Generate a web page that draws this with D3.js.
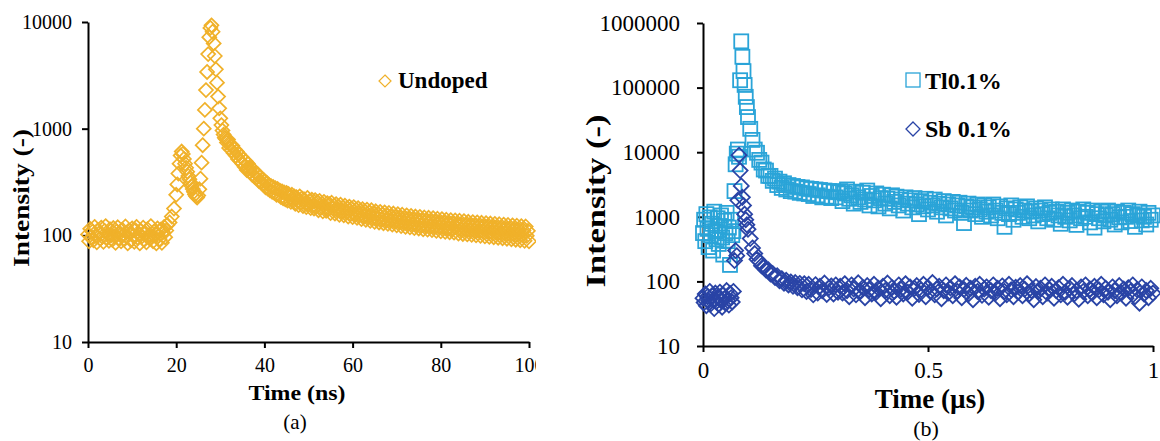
<!DOCTYPE html>
<html>
<head>
<meta charset="utf-8">
<script src="https://cdn.jsdelivr.net/npm/d3@7"></script>
<style>
  body { margin: 0; background: #fff; }
  svg text { font-family: "Liberation Serif", "Times New Roman", serif; fill: #000; }
</style>
</head>
<body>
<svg width="1160" height="441"></svg>
<script>
// (a) undoped: [time (ns), intensity]
const undoped = [
  [0,102],[0.25,88],[0.5,115],[0.75,96],[1,108],[1.25,90],[1.5,120],[1.75,99],[2,86],[2.25,112],
  [2.5,104],[2.75,93],[3,118],[3.25,97],[3.5,87],[3.75,110],[4,122],[4.25,95],[4.5,103],[4.75,89],
  [5,114],[5.25,100],[5.5,91],[5.75,117],[6,98],[6.25,85],[6.5,109],[6.75,119],[7,94],[7.25,105],
  [7.5,88],[7.75,113],[8,101],[8.25,92],[8.5,121],[8.75,97],[9,84],[9.25,111],[9.5,104],[9.75,90],
  [10,116],[10.25,99],[10.5,87],[10.75,112],[11,120],[11.25,95],[11.5,102],[11.75,84],[12,110],[12.25,98],
  [12.5,118],[12.75,91],[13,105],[13.25,86],[13.5,114],[13.75,100],[14,93],[14.25,122],[14.5,97],[14.75,88],
  [15,109],[15.25,103],[15.5,84],[15.75,116],[16,99],[16.25,92],[16.5,113],[16.75,85],[17,107],[17.25,120],
  [17.5,96],[17.75,111],[18,125],[18.5,132],[19,150],[19.5,178],
  [20,240],[20.25,300],[20.5,380],[20.75,470],[21,560],[21.25,610],[21.5,580],[21.75,520],[22,470],[22.25,430],
  [22.5,395],[22.75,360],[23,335],[23.25,310],[23.5,290],[23.75,272],[24,256],[24.25,242],[24.5,232],[24.75,226],
  [25,236],[25.25,270],[25.5,340],[25.75,480],[26,700],[26.25,1000],[26.5,1500],[26.75,2300],[27,3400],[27.25,5000],
  [27.5,7200],[27.75,8800],[28,9300],[28.25,8100],[28.5,6300],[28.75,4800],[29,3600],[29.25,2700],[29.5,2000],[29.75,1550],
  [30,1250],[30.25,1080],[30.5,960],[30.75,880],[31,820],
  [31.25,800],[31.5,740],[31.75,790],[32,660],[32.25,720],[32.5,630],[32.75,690],[33,590],[33.25,640],[33.5,560],
  [33.75,610],[34,520],[34.25,575],[34.5,500],[34.75,545],[35,470],[35.25,515],[35.5,440],[35.75,495],[36,410],
  [36.25,470],[36.5,425],[36.75,395],[37,430],[37.25,370],[37.5,410],[37.75,355],[38,385],[38.25,345],[38.5,372],
  [38.75,322],[39,355],[39.25,315],[39.5,338],[39.75,300],[40,325],[40.25,282],[40.5,312],[40.75,275],[41,298],
  [41.25,265],[41.5,290],[41.75,256],[42,284],[42.25,250],[42.5,276],[42.75,240],[43,272],[43.25,238],[43.5,262],
  [43.75,228],[44,258],[44.25,222],[44.5,252],[44.75,218],[45,250],[45.25,212],[45.5,244],[45.75,226],[46,206],
  [46.25,240],[46.5,214],[46.75,232],[47,198],[47.25,228],[47.5,210],[47.75,192],[48,232],[48.25,204],[48.5,222],
  [48.75,188],[49,218],[49.25,200],[49.5,184],[49.75,224],[50,196],[50.25,210],[50.5,180],[50.75,216],[51,190],
  [51.25,178],[51.5,214],[51.75,186],[52,205],[52.25,172],[52.5,210],[52.75,182],[53,198],[53.25,168],[53.5,206],
  [53.75,184],[54,170],[54.25,200],[54.5,176],[54.75,196],[55,162],[55.25,202],[55.5,178],[55.75,190],[56,160],
  [56.25,196],[56.5,172],[56.75,186],[57,156],[57.25,194],[57.5,168],[57.75,182],[58,154],[58.25,190],[58.5,165],
  [58.75,180],[59,150],[59.25,186],[59.5,160],[59.75,178],[60,148],[60.25,184],[60.5,158],[60.75,174],[61,146],
  [61.25,180],[61.5,156],[61.75,170],[62,142],[62.25,176],[62.5,152],[62.75,168],[63,140],[63.25,174],[63.5,150],
  [63.75,164],[64,137],[64.25,172],[64.5,146],[64.75,160],[65,134],[65.25,168],[65.5,144],[65.75,158],[66,132],
  [66.25,166],[66.5,142],[66.75,156],[67,130],[67.25,164],[67.5,140],[67.75,154],[68,128],[68.25,162],[68.5,138],
  [68.75,150],[69,126],[69.25,160],[69.5,136],[69.75,148],[70,124],[70.25,158],[70.5,134],[70.75,146],[71,122],
  [71.25,156],[71.5,132],[71.75,144],[72,120],[72.25,154],[72.5,130],[72.75,142],[73,119],[73.25,152],[73.5,128],
  [73.75,140],[74,117],[74.25,150],[74.5,127],[74.75,138],[75,116],[75.25,149],[75.5,125],[75.75,137],[76,114],
  [76.25,147],[76.5,124],[76.75,136],[77,113],[77.25,146],[77.5,122],[77.75,134],[78,112],[78.25,145],[78.5,121],
  [78.75,133],[79,110],[79.25,143],[79.5,120],[79.75,131],[80,109],[80.25,142],[80.5,119],[80.75,130],[81,108],
  [81.25,140],[81.5,117],[81.75,129],[82,107],[82.25,139],[82.5,116],[82.75,128],[83,106],[83.25,138],[83.5,118],
  [83.75,126],[84,104],[84.25,137],[84.5,114],[84.75,125],[85,103],[85.25,136],[85.5,113],[85.75,124],[86,102],
  [86.25,134],[86.5,112],[86.75,123],[87,101],[87.25,133],[87.5,111],[87.75,122],[88,100],[88.25,132],[88.5,110],
  [88.75,121],[89,99],[89.25,131],[89.5,109],[89.75,120],[90,98],[90.25,130],[90.5,108],[90.75,119],[91,97],
  [91.25,129],[91.5,107],[91.75,118],[92,96],[92.25,128],[92.5,106],[92.75,117],[93,95],[93.25,127],[93.5,105],
  [93.75,116],[94,94],[94.25,126],[94.5,104],[94.75,115],[95,93],[95.25,125],[95.5,103],[95.75,114],[96,92],
  [96.25,124],[96.5,102],[96.75,113],[97,91],[97.25,123],[97.5,101],[97.75,112],[98,90],[98.25,122],[98.5,100],
  [98.75,111],[99,89],[99.25,121],[99.5,99],[99.75,110],[100,88]
];

// (b) Tl 0.1% and Sb 0.1%: [time (µs), intensity]
const tl01 = [
  [0,560],[0.0025,900],[0.005,420],[0.0075,1100],[0.01,650],[0.0125,340],[0.015,980],[0.0175,520],[0.02,780],[0.0225,300],
  [0.025,1200],[0.0275,600],[0.03,450],[0.0325,950],[0.035,380],[0.0375,720],[0.04,1050],[0.0425,480],[0.045,260],[0.0475,870],
  [0.05,560],[0.0525,1150],[0.055,420],[0.0575,680],[0.06,180],[0.0625,900],[0.065,520],
  [0.0675,600],[0.07,2500],[0.0725,6500],[0.075,9500],[0.0775,11000],[0.08,8500],
  [0.0825,130000],[0.085,520000],[0.0875,300000],[0.09,180000],[0.0925,110000],[0.095,72000],[0.0975,50000],[0.1,35000],
  [0.105,23000],[0.11,15500],[0.115,11000],[0.12,9800],[0.125,7600],[0.13,6900],[0.135,5400],[0.14,5200],[0.145,4300],[0.15,4300],
  [0.155,3600],[0.16,3900],[0.165,3100],[0.17,3500],[0.175,2800],[0.18,3300],[0.185,2650],[0.19,3100],[0.195,2500],[0.2,3000],
  [0.205,2450],[0.21,2900],[0.215,2350],[0.22,2850],[0.225,2300],[0.23,2750],[0.235,2250],[0.24,2700],[0.245,2100],[0.25,2650],
  [0.255,2150],[0.26,2600],[0.265,2000],[0.27,2550],[0.275,2050],[0.28,2500],[0.285,1950],[0.29,2450],[0.295,2000],[0.3,2400],
  [0.305,2500],[0.31,1750],[0.315,2300],[0.32,2650],[0.325,1900],[0.33,2150],[0.335,1600],[0.34,2450],[0.345,2000],[0.35,1700],
  [0.355,2350],[0.36,1850],[0.365,2550],[0.37,1500],[0.375,2100],[0.38,1800],[0.385,2300],[0.39,1450],[0.395,1950],[0.4,2200],
  [0.405,1600],[0.41,1900],[0.415,1350],[0.42,2150],[0.425,1700],[0.43,2050],[0.435,1500],[0.44,1850],[0.445,1250],[0.45,2000],
  [0.455,1600],[0.46,1800],[0.465,1400],[0.47,1950],[0.475,1550],[0.48,1100],[0.485,1750],[0.49,1450],[0.495,1900],[0.5,1300],
  [0.505,1650],[0.51,1500],[0.515,1850],[0.52,1200],[0.525,1600],[0.53,1400],[0.535,1750],[0.54,1050],[0.545,1550],[0.55,1350],
  [0.555,1700],[0.56,1250],[0.565,1500],[0.57,1650],[0.575,1150],[0.58,800],[0.585,1450],[0.59,1600],[0.595,1250],[0.6,1400],
  [0.605,1100],[0.61,1550],[0.615,1300],[0.62,1000],[0.625,1500],[0.63,1200],[0.635,1400],[0.64,1050],[0.645,1550],[0.65,1250],
  [0.655,950],[0.66,1450],[0.665,1150],[0.67,700],[0.675,1350],[0.68,1100],[0.685,1500],[0.69,900],[0.695,1300],[0.7,1150],
  [0.705,1400],[0.71,1000],[0.715,1250],[0.72,1450],[0.725,950],[0.73,1200],[0.735,1050],[0.74,1350],[0.745,850],[0.75,1250],
  [0.755,1100],[0.76,1400],[0.765,950],[0.77,1150],[0.775,1300],[0.78,900],[0.785,1200],[0.79,1050],[0.795,780],[0.8,1300],
  [0.805,1000],[0.81,1150],[0.815,880],[0.82,1250],[0.825,1050],[0.83,750],[0.835,1200],[0.84,950],[0.845,1300],[0.85,1000],
  [0.855,1150],[0.86,820],[0.865,1250],[0.87,680],[0.875,1100],[0.88,950],[0.885,1200],[0.89,850],[0.895,1050],[0.9,1250],
  [0.905,900],[0.91,1100],[0.915,760],[0.92,1200],[0.925,980],[0.93,820],[0.935,1150],[0.94,1000],[0.945,1250],[0.95,860],
  [0.955,1100],[0.96,700],[0.965,1050],[0.97,1200],[0.975,880],[0.98,1000],[0.985,760],[0.99,1150],[0.995,900],[1,1050]
];
const sb01 = [
  [0,55],[0.0025,47],[0.005,64],[0.0075,42],[0.01,58],[0.0125,50],[0.015,70],[0.0175,45],[0.02,60],[0.0225,52],
  [0.025,38],[0.0275,66],[0.03,49],[0.0325,57],[0.035,44],[0.0375,68],[0.04,51],[0.0425,40],[0.045,62],[0.0475,54],
  [0.05,46],[0.0525,72],[0.055,50],[0.0575,43],[0.06,65],[0.0625,56],[0.065,48],
  [0.0675,70],[0.07,210],[0.0725,300],[0.075,250],[0.0775,1800],[0.08,9000],
  [0.0825,5200],[0.085,3000],[0.0875,2000],[0.09,1500],[0.0925,1100],[0.095,900],[0.0975,750],[0.1,640],
  [0.105,460],[0.11,330],[0.115,270],[0.12,220],[0.125,205],[0.13,175],[0.135,170],[0.14,150],[0.145,152],[0.15,130],
  [0.155,132],[0.16,115],[0.165,122],[0.17,102],[0.175,110],[0.18,94],[0.185,104],[0.19,88],[0.195,98],[0.2,84],
  [0.205,96],[0.21,80],[0.215,93],[0.22,74],[0.225,92],[0.23,70],[0.235,90],[0.24,75],[0.245,62],[0.25,89],
  [0.255,66],[0.26,84],[0.265,72],[0.27,94],[0.275,63],[0.28,80],[0.285,85],[0.29,64],[0.295,88],[0.3,68],
  [0.305,84],[0.31,66],[0.315,92],[0.32,72],[0.325,58],[0.33,88],[0.335,76],[0.34,62],[0.345,95],[0.35,70],
  [0.355,80],[0.36,56],[0.365,86],[0.37,74],[0.375,64],[0.38,90],[0.385,68],[0.39,78],[0.395,54],[0.4,84],
  [0.405,72],[0.41,94],[0.415,60],[0.42,80],[0.425,70],[0.43,57],[0.435,88],[0.44,75],[0.445,64],[0.45,92],
  [0.455,68],[0.46,82],[0.465,55],[0.47,78],[0.475,86],[0.48,63],[0.485,74],[0.49,90],[0.495,58],[0.5,80],
  [0.505,70],[0.51,96],[0.515,62],[0.52,76],[0.525,84],[0.53,54],[0.535,72],[0.54,88],[0.545,66],[0.55,79],
  [0.555,60],[0.56,92],[0.565,70],[0.57,82],[0.575,56],[0.58,75],[0.585,87],[0.59,64],[0.595,78],[0.6,52],
  [0.605,84],[0.61,70],[0.615,90],[0.62,61],[0.625,76],[0.63,82],[0.635,57],[0.64,72],[0.645,88],[0.65,66],
  [0.655,78],[0.66,54],[0.665,85],[0.67,70],[0.675,62],[0.68,90],[0.685,74],[0.69,58],[0.695,81],[0.7,68],
  [0.705,86],[0.71,60],[0.715,76],[0.72,92],[0.725,64],[0.73,72],[0.735,52],[0.74,83],[0.745,70],[0.75,78],
  [0.755,58],[0.76,88],[0.765,66],[0.77,74],[0.775,84],[0.78,55],[0.785,72],[0.79,80],[0.795,62],[0.8,90],
  [0.805,68],[0.81,57],[0.815,78],[0.82,86],[0.825,64],[0.83,72],[0.835,53],[0.84,82],[0.845,70],[0.85,88],
  [0.855,60],[0.86,76],[0.865,66],[0.87,84],[0.875,56],[0.88,74],[0.885,90],[0.89,62],[0.895,78],[0.9,68],
  [0.905,52],[0.91,82],[0.915,72],[0.92,60],[0.925,86],[0.93,66],[0.935,76],[0.94,55],[0.945,80],[0.95,70],
  [0.955,88],[0.96,58],[0.965,74],[0.97,46],[0.975,82],[0.98,64],[0.985,72],[0.99,56],[0.995,78],[1,66]
];

const ticksAx = [0, 20, 40, 60, 80, 100];
const ticksAy = [10, 100, 1000, 10000];
const ticksBx = [0, 0.5, 1];
const ticksBy = [10, 100, 1000, 10000, 100000, 1000000];

const colUndoped = "#F0B12A";
const colTl = "#2AA4D8";
const colSb = "#2A44A6";

const svg = d3.select("svg");

function diamondPath(r) {
  return "M0," + (-r) + "L" + r + ",0L0," + r + "L" + (-r) + ",0Z";
}

function styleAxis(g, size) {
  g.attr("font-family", "Liberation Serif").attr("font-size", size);
  g.select(".domain").attr("stroke", "#000").attr("stroke-width", 2);
  g.selectAll(".tick line").attr("stroke", "#000").attr("stroke-width", 2);
  g.selectAll(".tick text").attr("fill", "#000");
}

function plotDiamonds(parent, data, x, y, color, r, w) {
  parent.append("g").selectAll("path")
    .data(data)
    .join("path")
    .attr("d", diamondPath(r))
    .attr("transform", d => "translate(" + x(d[0]) + "," + y(d[1]) + ")")
    .attr("fill", "none")
    .attr("stroke", color)
    .attr("stroke-width", w);
}

function plotSquares(parent, data, x, y, color, s, w) {
  parent.append("g").selectAll("rect")
    .data(data)
    .join("rect")
    .attr("x", d => x(d[0]) - s / 2)
    .attr("y", d => y(d[1]) - s / 2)
    .attr("width", s)
    .attr("height", s)
    .attr("fill", "none")
    .attr("stroke", color)
    .attr("stroke-width", w);
}

// ---- panel (a)
svg.append("defs").append("clipPath").attr("id", "clipA")
  .append("rect").attr("x", 0).attr("y", 0).attr("width", 536).attr("height", 441);
const panelA = svg.append("g").attr("clip-path", "url(#clipA)");

const xA = d3.scaleLinear().domain([0, 100]).range([88, 529]);
const yA = d3.scaleLog().domain([10, 10000]).range([342, 22]);

panelA.append("g")
  .attr("transform", "translate(88,0)")
  .call(d3.axisLeft(yA).tickValues(ticksAy).tickFormat(d3.format("d")).tickSize(6).tickSizeOuter(0).tickPadding(10))
  .call(g => styleAxis(g, 20));
panelA.append("g")
  .attr("transform", "translate(0,342)")
  .call(d3.axisBottom(xA).tickValues(ticksAx).tickFormat(d => String(d)).tickSize(6).tickSizeOuter(0).tickPadding(10))
  .call(g => styleAxis(g, 20));

plotDiamonds(panelA, undoped, xA, yA, colUndoped, 7, 1.7);

panelA.append("text")
  .attr("transform", "translate(29,198)rotate(-90)")
  .attr("text-anchor", "middle")
  .attr("font-weight", "bold")
  .attr("font-size", 24)
  .attr("textLength", 138)
  .attr("lengthAdjust", "spacingAndGlyphs")
  .text("Intensity (-)");
panelA.append("text")
  .attr("x", 297).attr("y", 400)
  .attr("text-anchor", "middle")
  .attr("font-weight", "bold")
  .attr("font-size", 22)
  .attr("textLength", 97)
  .attr("lengthAdjust", "spacingAndGlyphs")
  .text("Time (ns)");
panelA.append("text")
  .attr("x", 295).attr("y", 429)
  .attr("text-anchor", "middle")
  .attr("font-size", 21)
  .text("(a)");

// legend (a)
panelA.append("path")
  .attr("d", diamondPath(6))
  .attr("transform", "translate(385,81)")
  .attr("fill", "none").attr("stroke", colUndoped).attr("stroke-width", 1.2);
panelA.append("text")
  .attr("x", 398).attr("y", 88)
  .attr("font-weight", "bold").attr("font-size", 23)
  .text("Undoped");

// ---- panel (b)
const panelB = svg.append("g");
const xB = d3.scaleLinear().domain([0, 1]).range([703, 1153]);
const yB = d3.scaleLog().domain([10, 1000000]).range([346, 23]);

panelB.append("g")
  .attr("transform", "translate(703,0)")
  .call(d3.axisLeft(yB).tickValues(ticksBy).tickFormat(d3.format("d")).tickSize(6).tickSizeOuter(0).tickPadding(17))
  .call(g => styleAxis(g, 23));
panelB.append("g")
  .attr("transform", "translate(0,346)")
  .call(d3.axisBottom(xB).tickValues(ticksBx).tickFormat(d => String(d)).tickSize(6).tickSizeOuter(0).tickPadding(10))
  .call(g => styleAxis(g, 23));

plotSquares(panelB, tl01, xB, yB, colTl, 14, 1.8);
plotDiamonds(panelB, sb01, xB, yB, colSb, 7.5, 1.8);

panelB.append("text")
  .attr("transform", "translate(605,201)rotate(-90)")
  .attr("text-anchor", "middle")
  .attr("font-weight", "bold")
  .attr("font-size", 27)
  .attr("textLength", 173)
  .attr("lengthAdjust", "spacingAndGlyphs")
  .text("Intensity (-)");
panelB.append("text")
  .attr("x", 930).attr("y", 408)
  .attr("text-anchor", "middle")
  .attr("font-weight", "bold")
  .attr("font-size", 27)
  .text("Time (µs)");
panelB.append("text")
  .attr("x", 926).attr("y", 436)
  .attr("text-anchor", "middle")
  .attr("font-size", 22)
  .text("(b)");

// legend (b)
panelB.append("rect")
  .attr("x", 906).attr("y", 73).attr("width", 14).attr("height", 14)
  .attr("fill", "none").attr("stroke", colTl).attr("stroke-width", 1.3);
panelB.append("text")
  .attr("x", 925).attr("y", 89)
  .attr("font-weight", "bold").attr("font-size", 24)
  .text("Tl0.1%");
panelB.append("path")
  .attr("d", diamondPath(7))
  .attr("transform", "translate(913,129)")
  .attr("fill", "none").attr("stroke", colSb).attr("stroke-width", 1.3);
panelB.append("text")
  .attr("x", 925).attr("y", 137)
  .attr("font-weight", "bold").attr("font-size", 24)
  .text("Sb 0.1%");
</script>
</body>
</html>
